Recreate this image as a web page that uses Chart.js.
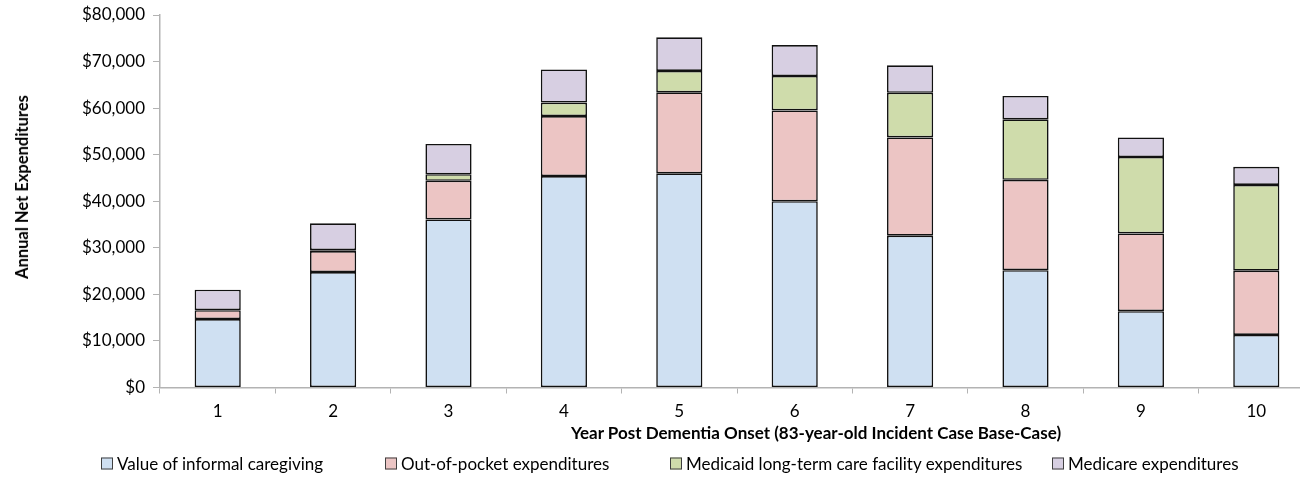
<!DOCTYPE html>
<html>
<head>
<meta charset="utf-8">
<title>Annual Net Expenditures</title>
<script src="https://cdn.jsdelivr.net/npm/chart.js@4"></script>
<style>
  html, body { margin: 0; padding: 0; background: #fff; overflow: hidden; }
  #wrap { position: relative; width: 1300px; height: 485px; overflow: hidden; font-family: Lato, "Open Sans", sans-serif; color: #000; }
  #myChart { position: absolute; left: 0; top: 0; }
  .axis-title { position: absolute; font-weight: bold; font-size: 17px; white-space: nowrap; }
  #yTitle { left: 22px; top: 187px; transform: translate(-50%, -50%) rotate(-90deg); font-size: 16.5px; }
  #xTitle { left: 816px; top: 432px; transform: translate(-50%, -50%); }
  .legend-item { position: absolute; top: 463px; transform: translateY(-50%); font-size: 17px; white-space: nowrap; display: flex; align-items: center; }
  .legend-item span.box { display: inline-block; width: 10px; height: 10px; border: 1px solid #404040; margin-right: 4px; }
</style>
</head>
<body>
<div id="wrap">
  <canvas id="myChart" width="1320" height="485"></canvas>
  <div class="axis-title" id="yTitle">Annual Net Expenditures</div>
  <div class="axis-title" id="xTitle">Year Post Dementia Onset (83-year-old Incident Case Base-Case)</div>
  <div id="legend"></div>
</div>
<script>
// years after onset
const years = ['1', '2', '3', '4', '5', '6', '7', '8', '9', '10'];

// dollars per year, one array per cost component
const informalCare = [14700, 24800, 36100, 45400, 46000, 40000, 32600, 25200, 16400, 11300];
const outOfPocket = [1900, 4500, 8300, 12900, 17400, 19500, 21100, 19400, 16700, 13800];
const medicaidLTC = [0, 200, 1400, 2900, 4600, 7400, 9600, 13000, 16400, 18400];
const medicare = [4400, 5750, 6500, 7100, 7200, 6650, 5900, 5000, 4200, 3900];

const seriesNames = [
  'Value of informal caregiving',
  'Out-of-pocket expenditures',
  'Medicaid long-term care facility expenditures',
  'Medicare expenditures'
];
const seriesColors = ['#cfe0f2', '#ecc5c4', '#cfdcab', '#d7cfe2'];
const legendLeft = [101, 385, 670, 1052];

const yTicks = [0, 10000, 20000, 30000, 40000, 50000, 60000, 70000, 80000];

const fontFamily = 'Lato, "Open Sans", sans-serif';
const axisGray = '#b3b3b3';

const datasets = [informalCare, outOfPocket, medicaidLTC, medicare].map((values, i) => ({
  label: seriesNames[i],
  data: values,
  backgroundColor: seriesColors[i],
  borderColor: '#111',
  borderWidth: 1.6,
  borderSkipped: false,
  barPercentage: 0.4,
  categoryPercentage: 1.0
}));

const ctx = document.getElementById('myChart');

new Chart(ctx, {
  type: 'bar',
  data: {
    labels: years,
    datasets: datasets
  },
  options: {
    responsive: false,
    animation: false,
    devicePixelRatio: 1,
    layout: {
      padding: { top: 15, right: 6, bottom: 0, left: 0 }
    },
    plugins: {
      legend: { display: false },
      tooltip: { enabled: false }
    },
    scales: {
      x: {
        stacked: true,
        grid: {
          drawOnChartArea: false,
          drawTicks: true,
          tickLength: 6,
          color: axisGray
        },
        border: { display: true, color: axisGray, width: 1.5 },
        ticks: {
          color: '#000',
          padding: 8,
          font: { family: fontFamily, size: 17 }
        },
        afterFit: (scale) => { scale.height = 97.5; }
      },
      y: {
        stacked: true,
        min: 0,
        max: 80000,
        afterBuildTicks: (scale) => {
          scale.ticks = yTicks.map(v => ({ value: v }));
        },
        grid: {
          drawOnChartArea: false,
          drawTicks: true,
          tickLength: 7,
          color: axisGray
        },
        border: { display: true, color: axisGray, width: 1.5 },
        ticks: {
          color: '#000',
          padding: 8,
          font: { family: fontFamily, size: 17 },
          callback: (value) => '$' + Number(value).toLocaleString('en-US')
        },
        afterFit: (scale) => {
          scale.width = 160;
          // let the layout padding alone decide where the plot starts
          scale.paddingTop = 0;
          scale.paddingBottom = 0;
        }
      }
    }
  }
});

// legend row under the chart
const legend = document.getElementById('legend');
seriesNames.forEach((name, i) => {
  const item = document.createElement('div');
  item.className = 'legend-item';
  item.style.left = legendLeft[i] + 'px';
  item.innerHTML = `<span class="box" style="background:${seriesColors[i]}"></span>${name}`;
  legend.appendChild(item);
});
</script>
</body>
</html>
